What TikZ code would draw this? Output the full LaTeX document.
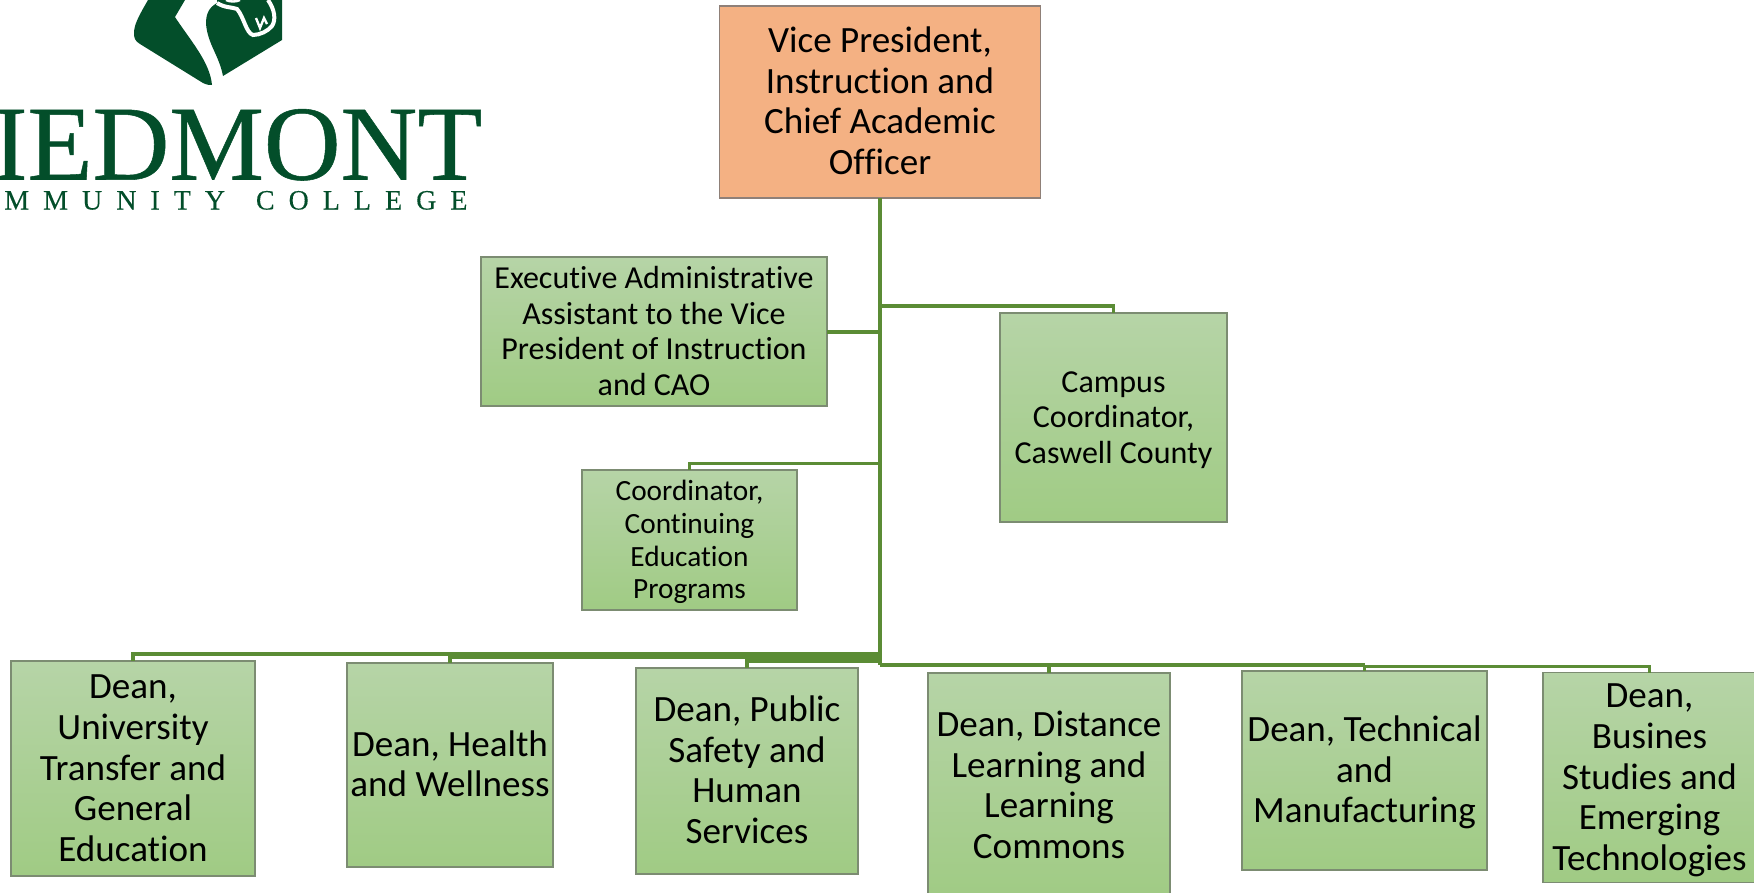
\documentclass[tikz,border=0pt]{standalone}
\usepackage{fontspec}
\usepackage{graphicx}
\setmainfont[RawFeature=-liga]{Carlito}
\newfontfamily\logofont[FakeBold=0.5]{Liberation Serif}
\newfontfamily\logosmall[LetterSpace=50,FakeBold=0.2]{Liberation Serif}
\definecolor{logogreen}{HTML}{034E2A}
\definecolor{linegreen}{HTML}{5B8C35}
\definecolor{boxtop}{HTML}{B6D4A7}
\definecolor{boxbot}{HTML}{A0CB84}
\definecolor{boxedge}{HTML}{7C8C72}
\definecolor{orangebox}{HTML}{F4B183}
\definecolor{orangeedge}{HTML}{8F8078}
\newcommand\boxtext[1]{\raisebox{-2.5pt}[\height][\depth]{\begin{tabular}{@{}c@{}}#1\end{tabular}}}
\tikzset{
  px/.style={x=0.75pt,y=-0.75pt},
  orgbox/.style={draw=boxedge,line width=0.9pt,top color=boxtop,bottom color=boxbot,
    minimum width=#1,inner sep=0pt,outer sep=0pt,anchor=north west},
  link/.style={draw=linegreen,line width=2.3pt,line join=miter},
  fone/.style={font=\fontsize{27.8}{30.6}\selectfont},
  ftwo/.style={font=\fontsize{24}{26.6}\selectfont},
  fcampus/.style={font=\fontsize{24}{26.8}\selectfont},
  fthree/.style={font=\fontsize{22}{24.5}\selectfont},
  ffour/.style={font=\fontsize{27.8}{30.6}\selectfont},
}
\begin{document}
\begin{tikzpicture}[px]
\useasboundingbox (0,0) rectangle (1754,893);
\begin{scope}
\clip (0,0) rectangle (1754,893);
% logo
\fill[logogreen] (148,0) .. controls (140,14) and (134,24) .. (134,33)
  .. controls (134,38) and (135,41) .. (140,44) -- (203,83)
  .. controls (207,85) and (210,85) .. (212,85)
  .. controls (210,62) and (190,40) .. (175,17) -- (185,0) -- cycle;
\fill[logogreen] (217,3) .. controls (208,8) and (206,15) .. (206,24)
  .. controls (208,45) and (219,55) .. (223,76) -- (282,40) -- (282,0) -- (217,0) -- cycle;
\draw[white,line width=3pt] (217,3) .. controls (225,8) and (232,7) .. (237,9)
  .. controls (244,17) and (246,33) .. (253,35)
  .. controls (260,35) and (268,31) .. (272,26)
  .. controls (276,20) and (275,10) .. (268,0);
\draw[white,line width=1.4pt] (190,0) -- (190,11);
\draw[white,line width=1.8pt] (256,18) -- (260,28) -- (264,18) -- (267,24);
\draw[white,line width=1.8pt] (226,0) .. controls (230,2) and (236,2) .. (240,0);
\node[anchor=base west,inner sep=0pt,text=logogreen] (wordmark) at (-8,179.5)
  {\logofont\resizebox{367.5pt}{52.8pt}{IEDMONT}};
\node[anchor=base west,inner sep=0pt,text=logogreen] (college) at (4,209.5)
  {\fontsize{21}{24}\logosmall MMUNITY\hspace{0.35em} COLLEGE};
% boxes
\node[orgbox=321*0.75pt,top color=orangebox,bottom color=orangebox,draw=orangeedge,
  minimum height=192*0.75pt,fone] (vp) at (719.5,6)
  {\boxtext{Vice President,\\Instruction and\\Chief Academic\\Officer}};
\node[orgbox=346*0.75pt,minimum height=149*0.75pt,ftwo] (exec) at (481,257)
  {\boxtext{Executive Administrative\\Assistant to the Vice\\President of Instruction\\and CAO}};
\node[orgbox=227*0.75pt,minimum height=209*0.75pt,fcampus] (campus) at (1000,313)
  {\boxtext{Campus\\Coordinator,\\Caswell County}};
\node[orgbox=215*0.75pt,minimum height=140*0.75pt,fthree] (coord) at (582,470)
  {\boxtext{Coordinator,\\Continuing\\Education\\Programs}};
\node[orgbox=244*0.75pt,minimum height=215*0.75pt,ffour] (d1) at (11,661)
  {\boxtext{Dean,\\University\\Transfer and\\General\\Education}};
\node[orgbox=206*0.75pt,minimum height=204*0.75pt,ffour] (d2) at (347,663)
  {\boxtext{Dean, Health\\and Wellness}};
\node[orgbox=222*0.75pt,minimum height=206*0.75pt,ffour] (d3) at (636,668)
  {\boxtext{Dean, Public\\Safety and\\Human\\Services}};
\node[orgbox=242*0.75pt,minimum height=226*0.75pt,ffour] (d4) at (928,673)
  {\boxtext{Dean, Distance\\Learning and\\Learning\\Commons}};
\node[orgbox=245*0.75pt,minimum height=199*0.75pt,ffour] (d5) at (1242,671)
  {\boxtext{Dean, Technical\\and\\Manufacturing}};
\node[orgbox=213*0.75pt,minimum height=210*0.75pt,ffour] (d6) at (1543,672.5)
  {\boxtext{Dean,\\Busines\\Studies and\\Emerging\\Technologies}};
% connectors
\coordinate (trunkend) at (vp.south |- 0,665);
\draw[link,line width=2.6pt] (vp.south) -- (trunkend);
\draw[link] (exec.east |- 0,332) -- (vp.south |- 0,332);
\draw[link] (vp.south |- 0,306) -- (campus.north |- 0,306) -- (campus.north);
\draw[link] (vp.south |- 0,463.5) -- (coord.north |- 0,463.5) -- (coord.north);
\draw[link] (vp.south |- 0,654) -- (d1.north |- 0,654) -- (d1.north);
\draw[link] (vp.south |- 0,657) -- (d2.north |- 0,657) -- (d2.north);
\draw[link] (vp.south |- 0,661) -- (d3.north |- 0,661) -- (d3.north);
\draw[link,line width=3pt] (trunkend) -- (d5.north |- 0,665);
\draw[link] (d4.north |- 0,665) -- (d4.north);
\draw[link] (d5.north |- 0,665) -- (d5.north);
\draw[link] (d5.north |- 0,666.5) -- (d6.north |- 0,666.5) -- (d6.north);
\end{scope}
\end{tikzpicture}
\end{document}
